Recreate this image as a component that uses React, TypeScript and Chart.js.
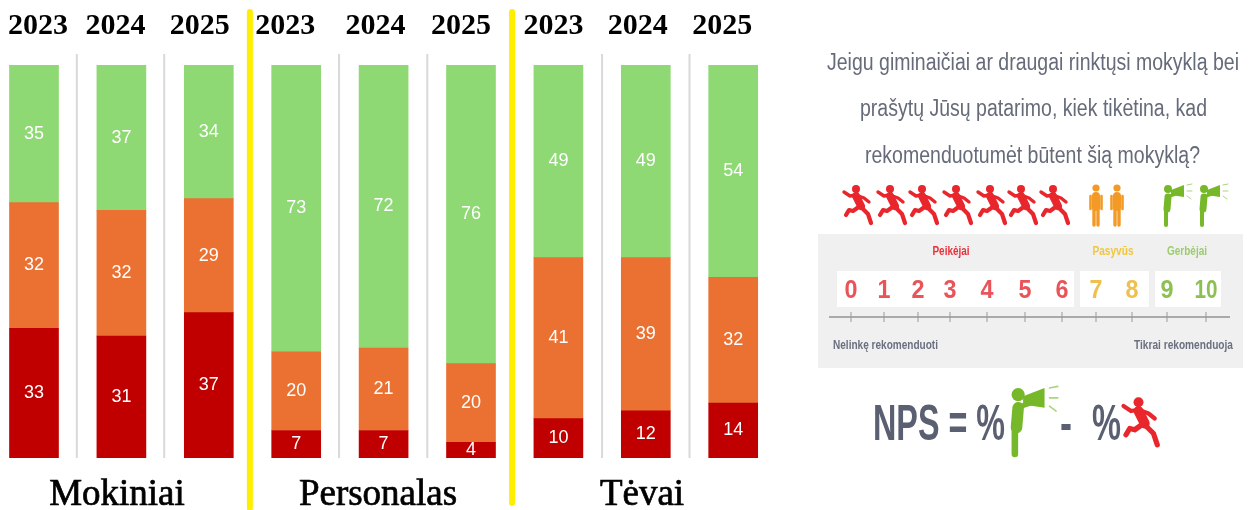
import React, { useEffect, useRef } from "react";
import { Chart, registerables } from "chart.js";

Chart.register(...registerables);

const years = ["2023", "2024", "2025", "2023", "2024", "2025", "2023", "2024", "2025"];
const detractors = [33, 31, 37, 7, 7, 4, 10, 12, 14];
const passives = [32, 32, 29, 20, 21, 20, 41, 39, 32];
const promoters = [35, 37, 34, 73, 72, 76, 49, 49, 54];
const groups = ["Mokiniai", "Personalas", "Tėvai"];

const scaleNumbers = ["0", "1", "2", "3", "4", "5", "6", "7", "8", "9", "10"];
const scaleX = [851, 884, 918, 950, 987, 1025, 1062, 1096, 1132, 1167, 1206];
const runnersX = [858, 892, 924, 958, 992, 1023, 1055];

const RED = "#c00000";
const ORANGE = "#ea7132";
const GREEN = "#8ed973";

// x axis layout: a unit is one bar slot
const unit = 87.4;
const firstCentre = 34;
const yearTickShift = [4, -6, -9, -11, -8, -10, -5, -8, -11];

const barLabels = {
  id: "barLabels",
  afterDatasetsDraw(chart: any) {
    const { ctx } = chart;
    ctx.save();
    ctx.fillStyle = "#ffffff";
    ctx.font = "18px 'Liberation Sans'";
    ctx.textAlign = "center";
    ctx.textBaseline = "middle";
    chart.data.datasets.forEach((ds: any, d: number) => {
      chart.getDatasetMeta(d).data.forEach((el: any, i: number) => {
        ctx.fillText(String(ds.data[i].y), el.x, (el.y + el.base) / 2);
      });
    });
    ctx.restore();
  },
};

const dividers = {
  id: "dividers",
  beforeDatasetsDraw(chart: any) {
    const { ctx, scales } = chart;
    const x = scales.x;
    const y = scales.y;
    ctx.save();
    ctx.strokeStyle = "#d9d9d9";
    ctx.lineWidth = 2;
    [0.49, 1.49, 3.49, 4.5, 6.5, 7.5].forEach((v) => {
      const px = x.getPixelForValue(v);
      ctx.beginPath();
      ctx.moveTo(px, 54);
      ctx.lineTo(px, y.getPixelForValue(0));
      ctx.stroke();
    });
    ctx.strokeStyle = "#ffee00";
    ctx.lineWidth = 6;
    ctx.lineCap = "round";
    [
      [2.47, 508],
      [5.47, 503],
    ].forEach(([v, end]) => {
      const px = x.getPixelForValue(v);
      ctx.beginPath();
      ctx.moveTo(px, 12);
      ctx.lineTo(px, end);
      ctx.stroke();
    });
    ctx.restore();
  },
};

const series = (label: string, values: number[], color: string) => ({
  label,
  data: values.map((y, x) => ({ x, y })),
  backgroundColor: color,
  barThickness: 49,
  borderWidth: 0,
});

function Runner({ x, y, s = 1 }: { x: number; y: number; s?: number }) {
  return (
    <g transform={`translate(${x} ${y}) scale(${s})`} fill="none" stroke="#e8262c" strokeLinecap="round" strokeLinejoin="round">
      <circle cx="-2" cy="-15" r="4" fill="#e8262c" stroke="none" />
      <polyline points="-14,-12 -8,-8 -2,-9 6,-6 11,-2" strokeWidth="3.4" />
      <polyline points="-2,-8 3,2" strokeWidth="8" />
      <polyline points="2,2 10,10 13,19" strokeWidth="4.2" />
      <polyline points="2,2 -5,7 -9,6 -12,11" strokeWidth="4.2" />
    </g>
  );
}

function Person({ x, y }: { x: number; y: number }) {
  return (
    <g transform={`translate(${x} ${y})`} fill="none" stroke="#f39a26" strokeLinecap="round">
      <circle cx="0" cy="-17" r="3.6" fill="#f39a26" stroke="none" />
      <line x1="0" y1="-9" x2="0" y2="2" strokeWidth="8" />
      <line x1="-5.5" y1="-9" x2="-5.5" y2="4" strokeWidth="2.6" />
      <line x1="5.5" y1="-9" x2="5.5" y2="4" strokeWidth="2.6" />
      <line x1="-2" y1="3" x2="-2" y2="20" strokeWidth="3.4" />
      <line x1="2" y1="3" x2="2" y2="20" strokeWidth="3.4" />
    </g>
  );
}

function Speaker({ x, y, s = 1 }: { x: number; y: number; s?: number }) {
  return (
    <g transform={`translate(${x} ${y}) scale(${s})`} stroke="#76b82a" fill="#76b82a" strokeLinecap="round">
      <circle cx="-9" cy="-16" r="4" stroke="none" />
      <polygon points="-6,-15 7,-20 7,-8 -6,-10" stroke="none" />
      <line x1="10" y1="-20" x2="15" y2="-21" strokeWidth="1" opacity="0.6" />
      <line x1="10" y1="-14" x2="15" y2="-14" strokeWidth="1" opacity="0.6" />
      <line x1="10" y1="-9" x2="14" y2="-6" strokeWidth="1" opacity="0.6" />
      <line x1="-9" y1="-8" x2="-10" y2="4" strokeWidth="7" />
      <line x1="-7" y1="-9" x2="-1" y2="-11" strokeWidth="3" />
      <line x1="-11" y1="4" x2="-11" y2="20" strokeWidth="4" />
    </g>
  );
}

const SLATE = "#666b79";
const PANEL_FONT = "'Liberation Sans', sans-serif";

export default function App() {
  const ref = useRef<HTMLCanvasElement>(null);

  useEffect(() => {
    const chart = new Chart(ref.current as HTMLCanvasElement, {
      type: "bar",
      data: {
        datasets: [
          series("Peikėjai", detractors, RED),
          series("Pasyvūs", passives, ORANGE),
          series("Gerbėjai", promoters, GREEN),
        ],
      },
      plugins: [dividers, barLabels],
      options: {
        animation: false,
        responsive: false,
        maintainAspectRatio: false,
        layout: { padding: { top: 5, bottom: 52, left: 0, right: 0 } },
        plugins: { legend: { display: false }, tooltip: { enabled: false } },
        scales: {
          x: {
            type: "linear",
            position: "top",
            stacked: true,
            offset: false,
            min: -firstCentre / unit,
            max: (1254 - firstCentre) / unit,
            grid: { display: false, offset: false },
            border: { display: false },
            afterBuildTicks(axis: any) {
              axis.ticks = years.map((_, i) => ({ value: i + yearTickShift[i] / unit }));
            },
            afterFit(axis: any) {
              axis.paddingLeft = 0;
              axis.paddingRight = 0;
              axis.height = 60;
            },
            ticks: {
              autoSkip: false,
              maxRotation: 0,
              padding: 13,
              color: "#000000",
              font: { family: "'Liberation Serif'", size: 30, weight: "bold" },
              callback: (_v: any, i: number) => years[i],
            },
          },
          y: { display: false, stacked: true, min: 0, max: 100 },
        },
      },
    } as any);
    return () => chart.destroy();
  }, []);

  return (
    <div style={{ position: "fixed", left: 0, top: 0, width: 1254, height: 510, overflow: "hidden", background: "#fff" }}>
      <canvas ref={ref} width={1254} height={510} style={{ position: "absolute", left: 0, top: 0, display: "block" }} />
      <svg width="1254" height="510" style={{ position: "absolute", left: 0, top: 0 }}>
        <g fontFamily="'Liberation Serif', serif" fontSize="37" fill="#000" stroke="#000" strokeWidth="0.7" textAnchor="middle">
          <text x="117" y="505">{groups[0]}</text>
          <text x="378" y="505">{groups[1]}</text>
          <text x="642" y="505">{groups[2]}</text>
        </g>
        <g fontFamily={PANEL_FONT} style={{ filter: "blur(0.5px)" }}>
          <g fontSize="23" fill={SLATE}>
            <text x="827" y="70" textLength="412" lengthAdjust="spacingAndGlyphs">Jeigu giminaičiai ar draugai rinktųsi mokyklą bei</text>
            <text x="860" y="116" textLength="347" lengthAdjust="spacingAndGlyphs">prašytų Jūsų patarimo, kiek tikėtina, kad</text>
            <text x="865" y="163" textLength="335" lengthAdjust="spacingAndGlyphs">rekomenduotumėt būtent šią mokyklą?</text>
          </g>
          {runnersX.map((x, i) => (
            <Runner key={i} x={x} y={204} />
          ))}
          <Person x={1096} y={205} />
          <Person x={1117} y={205} />
          <Speaker x={1177} y={205} />
          <Speaker x={1213} y={205} />

          <rect x="818" y="234" width="425" height="134" fill="#f0f0f0" />
          <rect x="837" y="271" width="237" height="36" fill="#fff" />
          <rect x="1080" y="271" width="69" height="36" fill="#fff" />
          <rect x="1155" y="271" width="66" height="36" fill="#fff" />
          <g fontSize="13" fontWeight="bold" textAnchor="middle">
            <text x="951" y="255" fill="#e8303a" textLength="37" lengthAdjust="spacingAndGlyphs">Peikėjai</text>
            <text x="1113" y="255" fill="#f0c63c" textLength="41" lengthAdjust="spacingAndGlyphs">Pasyvūs</text>
            <text x="1187" y="255" fill="#9ccc6c" textLength="40" lengthAdjust="spacingAndGlyphs">Gerbėjai</text>
          </g>
          <g fontSize="26" fontWeight="bold" textAnchor="middle">
            {scaleNumbers.map((n, i) => (
              <text
                key={n}
                x={scaleX[i]}
                y="298"
                textLength={n.length > 1 ? 23 : 13}
                lengthAdjust="spacingAndGlyphs"
                fill={i < 7 ? "#e8545a" : i < 9 ? "#eec14e" : "#8cc152"}
              >
                {n}
              </text>
            ))}
          </g>
          <line x1="829" y1="317" x2="1230" y2="317" stroke="#aaaaaa" strokeWidth="2" />
          {scaleX.map((x, i) => (
            <line key={i} x1={x} y1="312" x2={x} y2="322" stroke="#999999" strokeWidth="1" />
          ))}
          <g fontSize="12" fontWeight="bold" fill="#6b7080">
            <text x="833" y="349" textLength="105" lengthAdjust="spacingAndGlyphs">Nelinkę rekomenduoti</text>
            <text x="1134" y="349" textLength="99" lengthAdjust="spacingAndGlyphs">Tikrai rekomenduoja</text>
          </g>

          <g fontSize="50" fontWeight="bold" fill="#5b5f72">
            <text x="873" y="440" textLength="132" lengthAdjust="spacingAndGlyphs">NPS = %</text>
            <text x="1060" y="440" textLength="12" lengthAdjust="spacingAndGlyphs">-</text>
            <text x="1092" y="440" textLength="29" lengthAdjust="spacingAndGlyphs">%</text>
          </g>
          <Speaker x={1033} y={421} s={1.65} />
          <Runner x={1141} y={421} s={1.25} />
        </g>
      </svg>
    </div>
  );
}
